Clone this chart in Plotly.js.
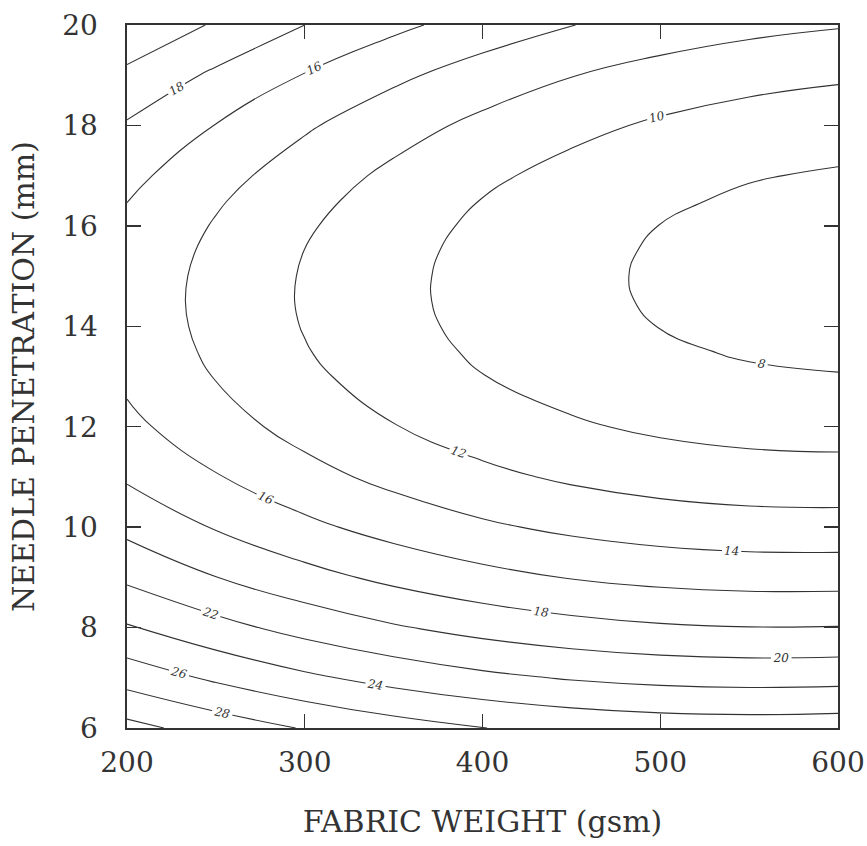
<!DOCTYPE html>
<html>
<head>
<meta charset="utf-8">
<script src="https://cdn.plot.ly/plotly-3.0.1.min.js"></script>
<style>
  html, body { margin: 0; padding: 0; background: #ffffff; }
  #chart { width: 867px; height: 846px; }
</style>
</head>
<body>
<div id="chart"></div>
<script>
// Fabric weight (gsm) grid positions
const fabricWeight = [200, 250, 300, 350, 400, 450, 500, 550, 600];
// Needle penetration (mm) grid positions
const needlePenetration = [6, 7, 8, 9, 10, 11, 12, 13, 13.5, 14, 14.5, 15, 15.5, 16, 16.5, 17, 18, 19, 20];
// Response values estimated from the contour picture (rows = needle penetration, cols = fabric weight)
const z6    = [30.61, 29.14, 27.87, 26.84, 26.03, 25.45, 25.10, 24.98, 25.08];
const z7    = [27.18, 25.67, 24.37, 23.30, 22.45, 21.84, 21.45, 21.29, 21.36];
const z8    = [24.18, 22.64, 21.30, 20.19, 19.31, 18.66, 18.23, 18.04, 18.07];
const z9    = [21.61, 20.03, 18.66, 17.52, 16.60, 15.91, 15.45, 15.22, 15.21];
const z10   = [19.47, 17.86, 16.45, 15.27, 14.31, 13.59, 13.09, 12.83, 12.78];
const z11   = [17.75, 16.12, 14.67, 13.45, 12.46, 11.70, 11.17, 10.86, 10.78];
const z12   = [16.47, 14.80, 13.32, 12.07, 11.04, 10.24, 9.67, 9.33, 9.21];
const z13   = [15.62, 13.92, 12.40, 11.11, 10.04, 9.21, 8.60, 8.23, 8.07];
const z13_5 = [15.36, 13.64, 12.10, 10.79, 9.71, 8.86, 8.23, 7.84, 7.67];
const z14   = [15.20, 13.47, 11.91, 10.58, 9.48, 8.61, 7.97, 7.55, 7.36];
const z14_5 = [15.15, 13.40, 11.82, 10.48, 9.36, 8.47, 7.81, 7.38, 7.17];
const z15   = [15.21, 13.44, 11.85, 10.49, 9.35, 8.44, 7.76, 7.31, 7.08];
const z15_5 = [15.37, 13.59, 11.98, 10.60, 9.44, 8.52, 7.82, 7.35, 7.11];
const z16   = [15.65, 13.85, 12.22, 10.82, 9.64, 8.70, 7.98, 7.50, 7.24];
const z16_5 = [16.03, 14.21, 12.56, 11.15, 9.95, 8.99, 8.26, 7.75, 7.47];
const z17   = [16.52, 14.69, 13.02, 11.58, 10.37, 9.39, 8.64, 8.11, 7.82];
const z18   = [17.81, 15.95, 14.25, 12.78, 11.53, 10.51, 9.72, 9.16, 8.83];
const z19   = [19.54, 17.65, 15.91, 14.40, 13.11, 12.06, 11.23, 10.64, 10.27];
const z20   = [21.70, 19.77, 18.00, 16.45, 15.13, 14.04, 13.18, 12.55, 12.14];
// Contour levels
const levelStart = 8;
const levelEnd = 30;
const levelStep = 2;
// Tick labels
const xTicks = [200, 300, 400, 500, 600];
const yTicks = [6, 8, 10, 12, 14, 16, 18, 20];

const zGrid = [z6, z7, z8, z9, z10, z11, z12, z13, z13_5, z14, z14_5, z15, z15_5, z16, z16_5, z17, z18, z19, z20];

const ink = '#333333';
const serif = 'DejaVu Serif, Liberation Serif, serif';

const trace = {
  type: 'contour',
  x: fabricWeight,
  y: needlePenetration,
  z: zGrid,
  showscale: false,
  autocontour: false,
  contours: {
    start: levelStart,
    end: levelEnd,
    size: levelStep,
    coloring: 'none',
    showlabels: true,
    labelfont: { family: serif, size: 12, color: ink, style: 'italic' }
  },
  line: { color: ink, width: 1.1, smoothing: 1.3 },
  hoverinfo: 'skip'
};

const layout = {
  width: 867,
  height: 846,
  paper_bgcolor: '#ffffff',
  plot_bgcolor: '#ffffff',
  showlegend: false,
  margin: { l: 127, r: 29, t: 25, b: 118, autoexpand: false },
  xaxis: {
    range: [200, 600],
    tickvals: xTicks,
    ticktext: xTicks.map(String),
    ticks: 'inside',
    ticklen: 14,
    tickwidth: 1.4,
    tickcolor: ink,
    mirror: 'allticks',
    showline: true,
    linecolor: ink,
    linewidth: 1.6,
    showgrid: false,
    zeroline: false,
    ticklabelstandoff: 9,
    tickfont: { family: serif, size: 28, color: ink },
    title: { text: 'FABRIC WEIGHT (gsm)', font: { family: serif, size: 30, color: ink }, standoff: 33 }
  },
  yaxis: {
    range: [6, 20],
    tickvals: yTicks,
    ticktext: yTicks.map(String),
    ticks: 'inside',
    ticklen: 14,
    tickwidth: 1.4,
    tickcolor: ink,
    mirror: 'allticks',
    showline: true,
    linecolor: ink,
    linewidth: 1.6,
    showgrid: false,
    zeroline: false,
    ticklabelstandoff: 22,
    tickfont: { family: serif, size: 28, color: ink },
    title: { text: 'NEEDLE PENETRATION (mm)', font: { family: serif, size: 30, color: ink }, standoff: 18 }
  }
};

Plotly.newPlot('chart', [trace], layout, { staticPlot: true, displayModeBar: false });
</script>
</body>
</html>
